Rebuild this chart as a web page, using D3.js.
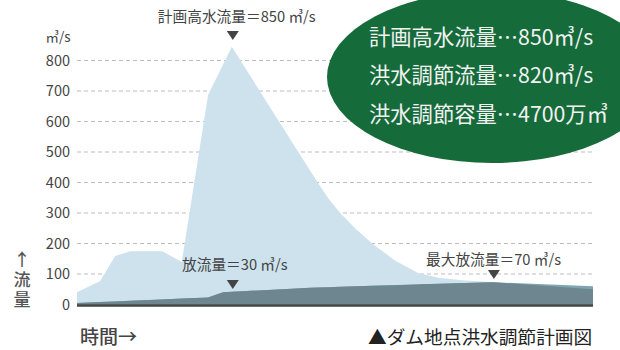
<!DOCTYPE html>
<html><head><meta charset="utf-8">
<script src="https://cdn.jsdelivr.net/npm/d3@7"></script>
<style>
html,body{margin:0;padding:0;background:#fff;}
svg{display:block;font-family:"Noto Sans CJK JP","Noto Sans",sans-serif;}
</style></head>
<body><svg id="c" width="620" height="350"></svg>
<script>
// time axis (arbitrary units 0-100), flows in m3/s
const inflowTime  = [0, 4.5, 7.4, 10.3, 16.5, 20.3, 25.4, 30, 46.7, 48.8, 51, 54.1, 57.2, 61.6, 66.1, 70.3, 75.2, 80.6, 100];
const inflowValue = [40, 77, 159, 175, 175, 139, 687, 845, 398, 346, 300, 247, 200, 144, 103, 87, 79, 74, 50];
const outflowTime  = [0, 25.4, 28.3, 45.2, 66.5, 80.6, 100];
const outflowValue = [5, 23, 40, 55, 66, 73, 60];
const yTicks = [0, 100, 200, 300, 400, 500, 600, 700, 800];
const infoLines = ["計画高水流量…850㎥/s", "洪水調節流量…820㎥/s", "洪水調節容量…4700万㎥"];
const annotations = [
  {t: 30,   v: 850, text: "計画高水流量＝850 ㎥/s"},
  {t: 30,   v: 30,  text: "放流量＝30 ㎥/s"},
  {t: 80.8, v: 70,  text: "最大放流量＝70 ㎥/s"}
];

const svg = d3.select("#c");
const x = d3.scaleLinear().domain([0, 100]).range([77, 593]);
const y = d3.scaleLinear().domain([0, 800]).range([304.5, 60.5]);

const inflowAt = d3.scaleLinear().domain(inflowTime).range(inflowValue);
const outflowAt = d3.scaleLinear().domain(outflowTime).range(outflowValue);
const allT = Array.from(new Set(inflowTime.concat(outflowTime))).sort((a,b)=>a-b);

// grid
const grid = svg.append("g");
yTicks.filter(d => d > 0).forEach(d => {
  grid.append("line").attr("x1", 77).attr("x2", 593).attr("y1", y(d)).attr("y2", y(d))
    .attr("stroke", "#bdbdbd").attr("stroke-width", 1).attr("stroke-dasharray", "4,3");
});

// inflow area
svg.append("path").datum(inflowTime.map((t,i)=>({t, v: inflowValue[i]})))
  .attr("d", d3.area().x(d=>x(d.t)).y0(y(0)).y1(d=>y(d.v)))
  .attr("fill", "#cde2ec");
// outflow area (teal where above inflow)
svg.append("path").datum(outflowTime.map((t,i)=>({t, v: outflowValue[i]})))
  .attr("d", d3.area().x(d=>x(d.t)).y0(y(0)).y1(d=>y(d.v)))
  .attr("fill", "#7fa6ae");
// dark area under min(inflow, outflow)
svg.append("path").datum(allT.map(t=>({t, v: Math.min(inflowAt(t), outflowAt(t))})))
  .attr("d", d3.area().x(d=>x(d.t)).y0(y(0)).y1(d=>y(d.v)))
  .attr("fill", "#6e8690");

// baseline
svg.append("line").attr("x1", 77).attr("x2", 593).attr("y1", y(0)+1).attr("y2", y(0)+1)
  .attr("stroke", "#444").attr("stroke-width", 2.5);

// green ellipse
svg.append("ellipse").attr("cx", 492).attr("cy", 77).attr("rx", 165).attr("ry", 86)
  .attr("fill", "#166b3b");

// y tick labels
svg.append("g").selectAll("text").data(yTicks).join("text")
  .attr("x", 70).attr("y", d => y(d)).attr("dy", "0.35em").attr("text-anchor", "end")
  .attr("font-size", 14.5).attr("fill", "#444").text(d => d);
svg.append("text").attr("x", 58).attr("y", 37).attr("dy","0.35em").attr("text-anchor","middle")
  .attr("font-size", 13.5).attr("fill", "#444").text("㎥/s");

// axis titles
svg.append("text").attr("x", 22).attr("y", 266).attr("text-anchor","middle")
  .attr("font-size", 17).attr("font-weight", 500).attr("fill", "#555").text("↑");
svg.append("text").attr("x", 22).attr("y", 271).attr("text-anchor","start")
  .attr("writing-mode", "tb").style("writing-mode", "vertical-rl").attr("letter-spacing", 3)
  .attr("font-size", 17).attr("font-weight", 500).attr("fill", "#555").text("流量");
svg.append("text").attr("x", 80).attr("y", 344).attr("font-size", 19).attr("font-weight", 500)
  .attr("fill", "#444").text("時間→");
svg.append("text").attr("x", 368).attr("y", 344).attr("font-size", 18.7)
  .attr("fill", "#222").text("▲ダム地点洪水調節計画図");

// annotations
const tri = (cx, top) => `M${cx-6},${top}L${cx+6},${top}L${cx},${top+9}Z`;
const a0 = annotations[0];
svg.append("text").attr("x", x(a0.t)+5).attr("y", 17).attr("dy","0.35em").attr("text-anchor","middle")
  .attr("font-size", 14.7).attr("fill", "#444").text(a0.text);
svg.append("path").attr("d", tri(x(a0.t)+1, 31)).attr("fill", "#444");
const a1 = annotations[1];
svg.append("text").attr("x", 182).attr("y", 265).attr("dy","0.35em")
  .attr("font-size", 14.7).attr("fill", "#444").text(a1.text);
svg.append("path").attr("d", tri(x(a1.t)+1, 280)).attr("fill", "#444");
const a2 = annotations[2];
svg.append("text").attr("x", 426).attr("y", 260).attr("dy","0.35em")
  .attr("font-size", 14.7).attr("fill", "#444").text(a2.text);
svg.append("path").attr("d", tri(x(a2.t), 270)).attr("fill", "#444");

// ellipse text
svg.append("g").selectAll("text").data(infoLines).join("text")
  .attr("x", 369).attr("y", (d,i) => 44.5 + i*38.5)
  .attr("font-size", 21.3).attr("fill", "#f2f2f2").text(d => d);
</script></body></html>
